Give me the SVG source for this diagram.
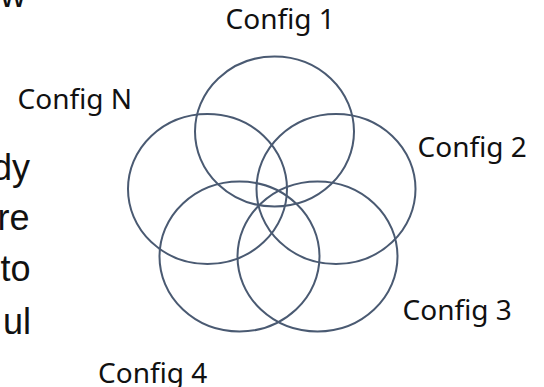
<svg xmlns="http://www.w3.org/2000/svg" width="544" height="387" viewBox="0 0 544 387">
  <style>
    .ring { fill: none; stroke: #4a5a72; stroke-width: 2; }
    .lbl { font-family: "Noto Sans", "Open Sans", sans-serif; font-size: 28px; fill: #111111; }
    .frag { font-family: "Liberation Sans", Arial, sans-serif; font-size: 36px; fill: #111111; text-anchor: end; }
  </style>
  <rect width="544" height="387" fill="#ffffff"/>
  <g id="side-text">
    <text class="frag" x="26" y="7">w</text>
    <text class="frag" x="30" y="180">dy</text>
    <text class="frag" x="29.5" y="230">re</text>
    <text class="frag" x="30.5" y="281">to</text>
    <text class="frag" x="31" y="334">ul</text>
  </g>
  <g id="connectors"></g>
  <g id="config-1">
    <ellipse class="ring" cx="274.5" cy="131.5" rx="79.5" ry="75"/>
    <text class="lbl" x="225.5" y="29">Config 1</text>
  </g>
  <g id="config-n">
    <ellipse class="ring" cx="207.5" cy="189" rx="79.5" ry="75"/>
    <text class="lbl" x="17.5" y="109">Config N</text>
  </g>
  <g id="config-2">
    <ellipse class="ring" cx="336" cy="189" rx="79.5" ry="75"/>
    <text class="lbl" x="417.5" y="157">Config 2</text>
  </g>
  <g id="config-4">
    <ellipse class="ring" cx="239.5" cy="256.5" rx="80" ry="75"/>
    <text class="lbl" x="98" y="383">Config 4</text>
  </g>
  <g id="config-3">
    <ellipse class="ring" cx="317.5" cy="256.5" rx="80" ry="75"/>
    <text class="lbl" x="402.5" y="320">Config 3</text>
  </g>
</svg>
